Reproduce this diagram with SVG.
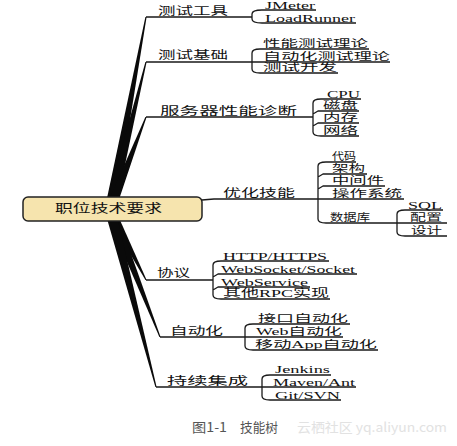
<svg xmlns="http://www.w3.org/2000/svg" width="457" height="446" viewBox="0 0 457 446">
<style>
  .w{fill:#0a0a0a;stroke:none}
  .ln{fill:none;stroke:#1a1a1a;stroke-width:1.3;stroke-linejoin:round}
  text{font-family:"Liberation Serif","Noto Sans CJK SC",serif;fill:#111}
  .l1{font-size:11.5px}
  .l2{font-size:10px}
  .la{font-size:11px}
  .root{font-size:12px}
  .cap{font-family:"Noto Sans CJK SC","Liberation Sans",sans-serif;font-size:13px;fill:#555}
  .wm{font-family:"Noto Sans CJK SC","Liberation Sans",sans-serif;font-size:13px;fill:#e2e2e2}
</style>
<rect width="457" height="446" fill="#fff"/>
<g id="connectors">
  <path class="w" d="M104.5,210 L145.4,17 L146.6,17 L115.5,210 Z"/>
  <path class="w" d="M104.5,210 L145.4,62 L146.6,62 L115.5,210 Z"/>
  <path class="w" d="M104.5,210 L145.4,117 L146.6,117 L115.5,210 Z"/>
  <path class="w" d="M104.5,210 L145.4,280 L146.6,280 L115.5,210 Z"/>
  <path class="w" d="M104.5,210 L159.4,337 L160.6,337 L115.5,210 Z"/>
  <path class="w" d="M104.5,210 L155.4,387 L156.6,387 L115.5,210 Z"/>
  <path class="ln" d="M146,17 H252 M262,10 Q252,10 252,14 V19 Q252,23 262,23 M262,10 H316 M262,23 H356"/>
  <path class="ln" d="M146,62 H252 M260,49 Q252,49 252,53 V69 Q252,73 260,73 M260,49 H369 M252,62 H390 M260,73 H338"/>
  <path class="ln" d="M146,117 H313 M321,99 Q313,99 313,103 V132 Q313,136 321,136 M321,99 H361 M313,114 L318,111 H359 M313,126 L318,123 H359 M321,136 H359"/>
  <path class="ln" d="M202,200 L214,199 H318 M326,162 Q318,162 318,166 V219 Q318,223 326,223 M326,162 H356 M318,177 L323,174 H367 M318,189 L323,186 H385 M318,199 H404 M326,223 H397"/>
  <path class="ln" d="M405,210 Q397,210 397,214 V232 Q397,236 405,236 M405,210 H443 M397,223 H447 M405,236 H447"/>
  <path class="ln" d="M146,280 H213 M221,261 Q213,261 213,265 V295 Q213,299 221,299 M221,261 H329 M213,277 L218,274 H357 M213,290 L218,287 H310 M221,299 H330"/>
  <path class="ln" d="M160,337 H245 M253,324 Q245,324 245,328 V346 Q245,350 253,350 M253,324 H350 M245,337 H343 M253,350 H378"/>
  <path class="ln" d="M156,387 H262 M270,375 Q262,375 262,379 V396 Q262,400 270,400 M270,375 H331 M262,387 H356 M270,400 H341"/>
</g>
<g id="node-root">
  <rect x="23" y="197" width="179" height="24" rx="5" fill="#f6e4ae" stroke="#222" stroke-width="1.5"/>
  <text class="root" x="55" y="213" textLength="107" lengthAdjust="spacingAndGlyphs">职位技术要求</text>
</g>
<g id="node-test-tools">
  <text class="l1" x="158" y="14.5" textLength="70" lengthAdjust="spacingAndGlyphs">测试工具</text>
  <text class="la" x="265" y="8.5" textLength="50" lengthAdjust="spacingAndGlyphs">JMeter</text>
  <text class="la" x="265" y="21.5" textLength="90" lengthAdjust="spacingAndGlyphs">LoadRunner</text>
</g>
<g id="node-test-basics">
  <text class="l1" x="158" y="58.5" textLength="70" lengthAdjust="spacingAndGlyphs">测试基础</text>
  <text class="l2" x="263" y="46.5" textLength="105" lengthAdjust="spacingAndGlyphs">性能测试理论</text>
  <text class="l2" x="263" y="59.5" textLength="127" lengthAdjust="spacingAndGlyphs">自动化测试理论</text>
  <text class="l2" x="263" y="71" textLength="74" lengthAdjust="spacingAndGlyphs">测试开发</text>
</g>
<g id="node-server">
  <text class="l1" x="160" y="114.5" textLength="137" lengthAdjust="spacingAndGlyphs">服务器性能诊断</text>
  <text class="la" x="327" y="97.5" textLength="33" lengthAdjust="spacingAndGlyphs">CPU</text>
  <text class="l2" x="323" y="109" textLength="35" lengthAdjust="spacingAndGlyphs">磁盘</text>
  <text class="l2" x="323" y="121" textLength="35" lengthAdjust="spacingAndGlyphs">内存</text>
  <text class="l2" x="323" y="133.5" textLength="35" lengthAdjust="spacingAndGlyphs">网络</text>
</g>
<g id="node-optimize">
  <text class="l1" x="223" y="196.5" textLength="72" lengthAdjust="spacingAndGlyphs">优化技能</text>
  <text class="l2" x="332" y="160" textLength="24" lengthAdjust="spacingAndGlyphs">代码</text>
  <text class="l2" x="332" y="172" textLength="33" lengthAdjust="spacingAndGlyphs">架构</text>
  <text class="l2" x="332" y="184" textLength="52" lengthAdjust="spacingAndGlyphs">中间件</text>
  <text class="l2" x="332" y="196.5" textLength="70" lengthAdjust="spacingAndGlyphs">操作系统</text>
  <text class="l2" x="330" y="221" textLength="40" lengthAdjust="spacingAndGlyphs">数据库</text>
</g>
<g id="node-database">
  <text class="la" x="408" y="208.5" textLength="34" lengthAdjust="spacingAndGlyphs">SQL</text>
  <text class="l2" x="410" y="221" textLength="32" lengthAdjust="spacingAndGlyphs">配置</text>
  <text class="l2" x="411" y="234" textLength="31" lengthAdjust="spacingAndGlyphs">设计</text>
</g>
<g id="node-protocol">
  <text class="l1" x="157" y="277" textLength="33" lengthAdjust="spacingAndGlyphs">协议</text>
  <text class="la" x="223" y="259.5" textLength="104" lengthAdjust="spacingAndGlyphs">HTTP/HTTPS</text>
  <text class="la" x="221" y="272.5" textLength="134" lengthAdjust="spacingAndGlyphs">WebSocket/Socket</text>
  <text class="la" x="221" y="285.5" textLength="87" lengthAdjust="spacingAndGlyphs">WebService</text>
  <text class="la" x="223" y="297" textLength="106" lengthAdjust="spacingAndGlyphs">其他RPC实现</text>
</g>
<g id="node-automation">
  <text class="l1" x="170" y="334.5" textLength="53" lengthAdjust="spacingAndGlyphs">自动化</text>
  <text class="l2" x="258" y="321.5" textLength="90" lengthAdjust="spacingAndGlyphs">接口自动化</text>
  <text class="l2" x="256" y="335" textLength="86" lengthAdjust="spacingAndGlyphs">Web自动化</text>
  <text class="l2" x="255" y="347.5" textLength="122" lengthAdjust="spacingAndGlyphs">移动App自动化</text>
</g>
<g id="node-ci">
  <text class="l1" x="167" y="384.5" textLength="81" lengthAdjust="spacingAndGlyphs">持续集成</text>
  <text class="la" x="275" y="372.5" textLength="55" lengthAdjust="spacingAndGlyphs">Jenkins</text>
  <text class="la" x="273" y="385.5" textLength="82" lengthAdjust="spacingAndGlyphs">Maven/Ant</text>
  <text class="la" x="275" y="398.5" textLength="65" lengthAdjust="spacingAndGlyphs">Git/SVN</text>
</g>
<g id="caption">
  <text class="cap" x="192" y="432" textLength="35" lengthAdjust="spacingAndGlyphs">图1-1</text>
  <text class="cap" x="240" y="432" textLength="38" lengthAdjust="spacingAndGlyphs">技能树</text>
  <text class="wm" x="297" y="432" textLength="150" lengthAdjust="spacingAndGlyphs">云栖社区 yq.aliyun.com</text>
</g>
</svg>
